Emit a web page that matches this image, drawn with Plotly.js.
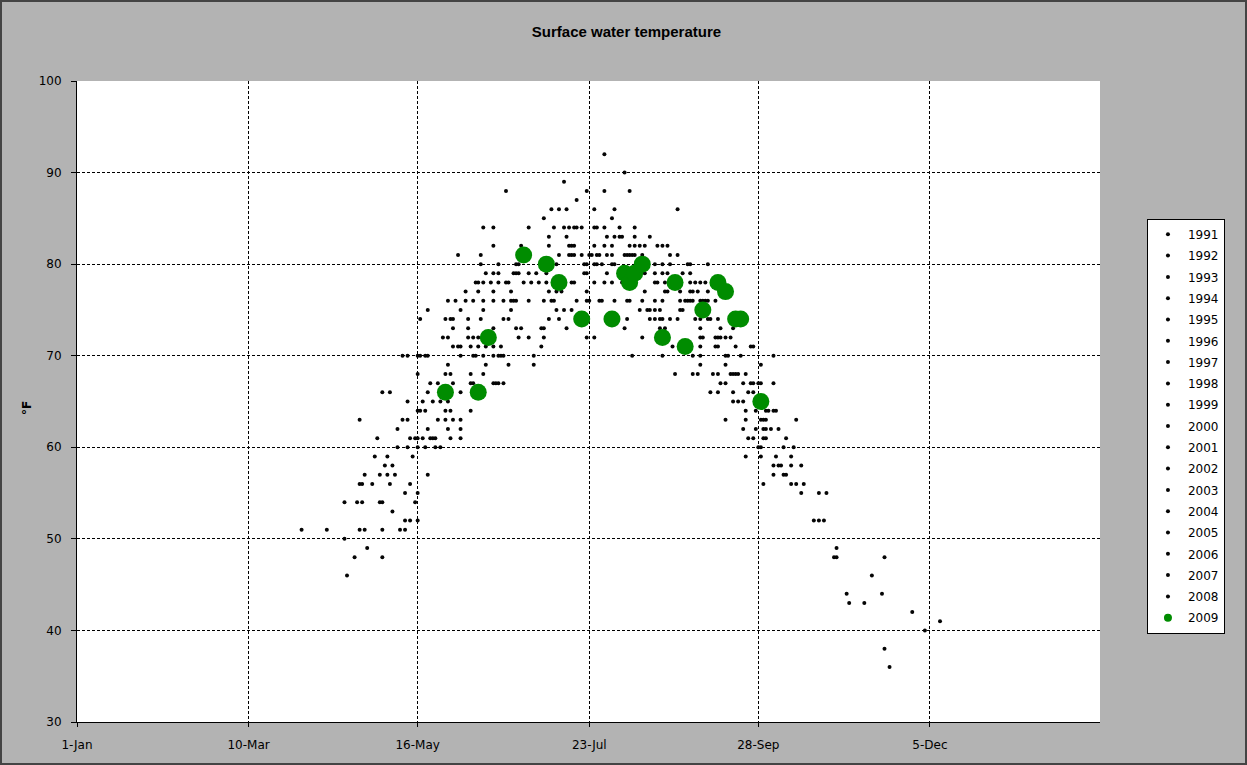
<!DOCTYPE html>
<html>
<head>
<meta charset="utf-8">
<script src="https://cdn.plot.ly/plotly-3.0.1.min.js"></script>
<style>
  html, body { margin: 0; padding: 0; background: #b3b3b3; }
  #chart { width: 1243px; height: 761px; border: 2px solid #444; }
</style>
</head>
<body>
<div id="chart"></div>
<script>
// ---- Data (day of year, 1-Jan = 0; temperature in °F) ----
const years = ['1991','1992','1993','1994','1995','1996','1997','1998','1999','2000',
               '2001','2002','2003','2004','2005','2006','2007','2008'];

// Temperatures (rows) and the days on which that temperature was observed (1991-2008 combined)
const tempRows = [92, 90, 89, 88, 87, 86, 85, 84, 83, 82, 81, 80, 79, 78, 77, 76, 75, 74, 73, 72,
                  71, 70, 69, 68, 67, 66, 65, 64, 63, 62, 61, 60, 59, 58, 57, 56, 55, 54, 53, 52,
                  51, 50, 49, 48, 46, 44, 43, 42, 41, 40, 38, 36];
const dayRows = [
  [209],
  [217],
  [193],
  [170, 202, 209, 219],
  [198],
  [188, 191, 194, 205, 213, 238],
  [185, 212],
  [161, 165, 179, 189, 193, 195, 197, 198, 200, 205, 206, 209, 215, 221],
  [187, 194, 210, 213, 215, 216, 221, 227],
  [165, 176, 187, 195, 196, 197, 205, 209, 212, 219, 221, 223, 225, 230, 232, 234],
  [151, 160, 191, 195, 196, 197, 200, 203, 204, 206, 207, 210, 212, 217, 218, 219, 220, 221, 224, 235, 238],
  [160, 167, 174, 175, 187, 190, 201, 202, 205, 206, 208, 212, 213, 222, 229, 232, 235, 242, 243, 250],
  [162, 165, 167, 173, 174, 175, 179, 182, 186, 201, 202, 210, 225, 229, 232, 234, 240, 243],
  [158, 159, 161, 164, 167, 170, 171, 177, 180, 183, 186, 196, 197, 205, 209, 212, 216, 229, 230, 233, 243, 245, 247, 249],
  [154, 159, 165, 172, 187, 190, 192, 202, 225, 233, 234, 239, 243, 244, 246, 250],
  [147, 150, 154, 157, 161, 165, 169, 172, 173, 174, 179, 185, 188, 189, 198, 202, 203, 207, 208, 213, 218, 219, 224, 229, 232, 239, 241, 242, 243, 244, 247, 248, 249, 250, 253],
  [139, 152, 161, 172, 190, 193, 196, 223, 226, 227, 229, 231, 239, 240, 247],
  [136, 146, 148, 149, 155, 160, 169, 171, 187, 191, 202, 218, 227, 229, 231, 232, 235, 238, 245, 247, 250, 251, 254],
  [149, 155, 165, 174, 176, 184, 185, 194, 217, 231, 233, 247, 255, 260],
  [145, 147, 155, 157, 159, 175, 179, 185, 202, 205, 224, 247, 248, 253, 254, 255, 257, 259],
  [149, 151, 152, 156, 159, 162, 165, 168, 184, 236, 243, 247, 253, 254, 261, 267, 268],
  [129, 131, 135, 136, 138, 139, 152, 157, 158, 161, 165, 167, 168, 169, 181, 220, 232, 244, 247, 257, 258, 263, 276],
  [147, 162, 171, 181, 247, 257, 271],
  [135, 146, 148, 156, 161, 237, 244, 246, 252, 254, 259, 260, 261, 262, 265],
  [140, 143, 149, 156, 157, 165, 166, 167, 169, 255, 257, 264, 267, 268, 270, 271, 276],
  [121, 124, 139, 152, 251, 254, 260, 266, 268],
  [131, 137, 141, 144, 147, 260, 262, 264],
  [135, 136, 138, 146, 148, 156, 265, 269, 273, 274, 276, 277],
  [112, 129, 131, 143, 146, 149, 152, 257, 265, 271, 272, 273, 285],
  [127, 139, 147, 152, 264, 269, 272, 273, 275, 278],
  [119, 132, 134, 135, 137, 140, 141, 142, 148, 152, 266, 268, 272, 273, 281],
  [127, 131, 135, 138, 142, 144, 270, 271, 280, 284],
  [118, 123, 133, 265, 271, 277, 283],
  [122, 125, 276, 278, 279, 283, 287],
  [114, 120, 123, 126, 139, 276, 280, 281],
  [112, 113, 117, 124, 132, 272, 283, 285, 288],
  [130, 135, 287, 294, 297],
  [106, 111, 113, 120, 121, 134],
  [125],
  [130, 132, 135, 292, 294, 296],
  [89, 99, 112, 114, 121, 128, 130],
  [106],
  [115, 301],
  [110, 121, 300, 301, 320],
  [107, 315],
  [305, 319],
  [306, 312],
  [331],
  [342],
  [336],
  [320],
  [322]
];

// 2009 observations
const days2009  = [146, 159, 163, 177, 186, 191, 200, 212, 217, 219, 221, 224, 232, 237, 241, 248, 254, 257, 261, 263, 271];
const temps2009 = [ 66,  66,  72,  81,  80,  78,  74,  74,  79,  78,  79,  80,  72,  78,  71,  75,  78,  77,  74,  74,  65];

// Axis ticks
const xTickVals = [0, 68, 135, 203, 270, 338];
const xTickText = ['1-Jan', '10-Mar', '16-May', '23-Jul', '28-Sep', '5-Dec'];

// ---- Build traces ----
const perYear = years.map(() => ({x: [], y: []}));
let k = 0;
tempRows.forEach((t, r) => {
  dayRows[r].forEach(d => {
    const s = perYear[k % years.length];
    s.x.push(d); s.y.push(t);
    k++;
  });
});

const traces = years.map((yr, i) => ({
  type: 'scatter', mode: 'markers', name: yr, legendgroup: yr,
  x: perYear[i].x, y: perYear[i].y,
  marker: {size: 4, color: '#050505', opacity: 1, line: {width: 0}},
  hoverinfo: 'skip'
}));
traces.push({
  type: 'scatter', mode: 'markers', name: '2009', legendgroup: '2009',
  x: days2009, y: temps2009,
  marker: {size: days2009.map(() => 8), sizeref: 0.47, sizemode: 'diameter',
           color: '#008c00', opacity: 1, line: {width: 0}},
  hoverinfo: 'skip'
});

const tickFont = {family: 'DejaVu Sans, Verdana, sans-serif', size: 12, color: '#000'};
const layout = {
  width: 1243, height: 761,
  paper_bgcolor: '#b3b3b3', plot_bgcolor: '#ffffff',
  margin: {l: 75, r: 145, t: 79, b: 41},
  showlegend: true,
  title: {
    text: 'Surface water temperature',
    font: {family: 'Liberation Sans Narrow, Liberation Sans, Arial, sans-serif', size: 15, color: '#000', weight: 'bold'},
    x: 0.5024, xanchor: 'center', y: 1 - 30 / 761, yanchor: 'middle'
  },
  xaxis: {
    range: [0, 405.4], tickvals: xTickVals, ticktext: xTickText,
    showgrid: true, gridcolor: '#000', griddash: '3px,2px', gridwidth: 1,
    showline: true, linecolor: '#000', linewidth: 1, zeroline: false,
    ticks: 'outside', ticklen: 4, tickcolor: '#000', tickfont: tickFont,
    ticklabelstandoff: 8
  },
  yaxis: {
    range: [30, 100], dtick: 10, tick0: 30,
    showgrid: true, gridcolor: '#000', griddash: '3px,2px', gridwidth: 1,
    showline: true, linecolor: '#000', linewidth: 1, zeroline: false,
    ticks: 'outside', ticklen: 5, tickcolor: '#000', tickfont: tickFont,
    ticklabelstandoff: 7
  },
  annotations: [{
    text: '°F', xref: 'paper', yref: 'paper', x: -50 / 1023, y: 0.49,
    xanchor: 'center', yanchor: 'middle', textangle: -90, showarrow: false,
    font: {family: 'DejaVu Sans, sans-serif', size: 12, color: '#000', weight: 'bold'}
  }],
  legend: {
    x: 1.0459, y: 0.785, xanchor: 'left', yanchor: 'top',
    bgcolor: '#ffffff', bordercolor: '#000', borderwidth: 1,
    font: {family: 'DejaVu Sans, sans-serif', size: 12, color: '#000'},
    tracegroupgap: 2.3, itemwidth: 30
  }
};

Plotly.newPlot('chart', traces, layout, {displayModeBar: false, staticPlot: true});
</script>
</body>
</html>
